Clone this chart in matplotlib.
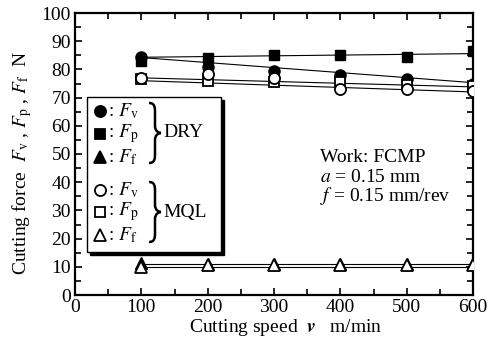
import matplotlib
matplotlib.use("Agg")
import matplotlib.pyplot as plt
from matplotlib.patches import Rectangle, PathPatch
from matplotlib.path import Path
import numpy as np

plt.rcParams['font.family'] = ['Liberation Serif', 'DejaVu Serif']
plt.rcParams['mathtext.fontset'] = 'stix'

# ---- data ----
v = [100, 200, 300, 400, 500, 600]
dry_fv = [84.3, 81.0, 79.4, 78.0, 76.6, 75.0]
dry_fp = [83.0, 84.0, 85.1, 85.1, 84.4, 86.5]
dry_ff = [11.5, 11.0, 11.0, 11.0, 11.0, 11.3]
mql_fv = [76.8, 78.4, 76.8, 73.0, 73.0, 72.5]
mql_fp = [76.5, 75.9, 75.6, 75.6, 74.5, 74.0]
mql_ff = [10.0, 10.5, 10.5, 10.5, 10.5, 10.5]

# regression lines (values at v = 100 and 600)
fit_v = [100, 600]
dry_fp_fit = [84.3, 85.6]
dry_fv_fit = [84.2, 75.3]
mql_fit_a = [77.0, 73.8]
mql_fit_b = [76.0, 72.0]
dry_ff_fit = [11.1, 11.1]
mql_ff_fit = [9.9, 9.9]

xticks = [0, 100, 200, 300, 400, 500, 600]
yticks = list(range(0, 101, 10))

FS = 14
W, H = 492, 349
fig = plt.figure(figsize=(W / 100, H / 100), dpi=100)
L, R, T, B = 75, 473, 13, 295
ax = fig.add_axes([L / W, (H - B) / H, (R - L) / W, (B - T) / H])

lw = 0.8
for yy in [dry_fp_fit, dry_fv_fit, mql_fit_a, mql_fit_b, dry_ff_fit, mql_ff_fit]:
    ax.plot(fit_v, yy, color='black', lw=lw, zorder=2)

ms = 8
ax.plot(v, dry_fp, ls='none', marker='s', ms=6.5, mfc='black', mec='black', zorder=3)
ax.plot(v, dry_fv, ls='none', marker='o', ms=ms, mfc='black', mec='black', zorder=3)
ax.plot(v, dry_ff, ls='none', marker='^', ms=ms, mfc='black', mec='black', zorder=3)
ax.plot(v, mql_fp, ls='none', marker='s', ms=6.5, mfc='white', mec='black', mew=1.3, zorder=4)
ax.plot(v, mql_fv, ls='none', marker='o', ms=ms, mfc='white', mec='black', mew=1.3, zorder=4)
ax.plot(v, mql_ff, ls='none', marker='^', ms=ms, mfc='white', mec='black', mew=1.3, zorder=4)

ax.set_xlim(0, 600)
ax.set_ylim(0, 100)
ax.set_xticks(xticks)
ax.set_yticks(yticks)
ax.set_xticks(np.arange(50, 600, 100), minor=True)
ax.set_yticks(np.arange(5, 100, 10), minor=True)
ax.tick_params(which='both', direction='in', top=True, right=True, width=1.2,
               labelsize=FS, pad=3)
ax.tick_params(which='major', length=5)
ax.tick_params(which='minor', length=4)
for s in ax.spines.values():
    s.set_linewidth(1.6)

def axy(px, py):
    return ((px - L) / (R - L), (B - py) / (B - T))

ax.set_xlabel(r'Cutting speed  $\boldsymbol{v}$   m/min', fontsize=FS)
ax.xaxis.set_label_coords(axy(286, 0)[0], axy(0, 328)[1])
ax.xaxis.label.set_va('center')
ax.set_ylabel(r'Cutting force  $F_\mathrm{v}$ , $F_\mathrm{p}$ , $F_\mathrm{f}$  N',
              fontsize=FS)
ax.yaxis.set_label_coords(axy(22, 0)[0], axy(0, 163)[1])
ax.yaxis.label.set_va('center')

# conditions text
for txt, py in [('Work: FCMP', 157), (r'$a$ = 0.15 mm', 177), (r'$f$ = 0.15 mm/rev', 196)]:
    ax.text(*axy(320, py), txt, transform=ax.transAxes, fontsize=FS, va='center', ha='left')

# legend box
x0, y0 = axy(87, 252)
x1, y1 = axy(221, 97)
dx = 3 / (R - L)
dy = 3 / (B - T)
ax.add_patch(Rectangle((x0 + dx, y0 - dy), x1 - x0, y1 - y0, transform=ax.transAxes,
                       facecolor='black', edgecolor='black', zorder=5))
ax.add_patch(Rectangle((x0, y0), x1 - x0, y1 - y0, transform=ax.transAxes,
                       facecolor='white', edgecolor='black', lw=1.0, zorder=6))

rows = [('o', 'black', r'$F_\mathrm{v}$', 111), ('s', 'black', r'$F_\mathrm{p}$', 134),
        ('^', 'black', r'$F_\mathrm{f}$', 157), ('o', 'white', r'$F_\mathrm{v}$', 190),
        ('s', 'white', r'$F_\mathrm{p}$', 212), ('^', 'white', r'$F_\mathrm{f}$', 235)]
for mk, fc, lab, py in rows:
    fx, fy = axy(100, py)
    ax.plot([fx], [fy], transform=ax.transAxes, ls='none', marker=mk,
            ms=6.5 if mk == 's' else ms, mfc=fc, mec='black', mew=1.3,
            clip_on=False, zorder=7)
    ax.text(*axy(108, py), ': ' + lab, transform=ax.transAxes, fontsize=FS,
            va='center', ha='left', zorder=7)


def brace(xl, ytop, ybot, w):
    h = ybot - ytop
    ym = (ytop + ybot) / 2
    xm = xl + w * 0.5
    pts = [(xl, ytop),
           (xm, ytop), (xm, ytop + 0.08 * h), (xm, ytop + 0.16 * h),
           (xm, ym - 0.12 * h),
           (xm, ym - 0.03 * h), (xl + w * 0.8, ym), (xl + w, ym),
           (xl + w * 0.8, ym), (xm, ym + 0.03 * h), (xm, ym + 0.12 * h),
           (xm, ybot - 0.16 * h),
           (xm, ybot - 0.08 * h), (xm, ybot), (xl, ybot)]
    codes = [Path.MOVETO, Path.CURVE4, Path.CURVE4, Path.CURVE4, Path.LINETO,
             Path.CURVE4, Path.CURVE4, Path.CURVE4, Path.CURVE4, Path.CURVE4, Path.CURVE4,
             Path.LINETO, Path.CURVE4, Path.CURVE4, Path.CURVE4]
    path = Path([axy(px, py) for px, py in pts], codes)
    ax.add_patch(PathPatch(path, transform=ax.transAxes, facecolor='none',
                           edgecolor='black', lw=1.8, zorder=7, clip_on=False))


brace(149, 103, 163, 12)
brace(149, 182, 242, 12)
for py, name in [(133, 'DRY'), (212, 'MQL')]:
    ax.text(*axy(163, py), name, transform=ax.transAxes, fontsize=FS, va='center',
            ha='left', zorder=7)

fig.savefig('out.png', dpi=100)
